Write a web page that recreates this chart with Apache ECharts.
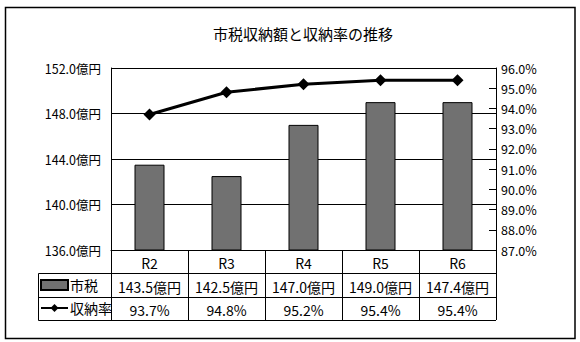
<!DOCTYPE html>
<html>
<head>
<meta charset="utf-8">
<script src="https://cdn.jsdelivr.net/npm/echarts@6/dist/echarts.min.js"></script>
<style>
html,body{margin:0;padding:0;background:#fff;}
#c{width:580px;height:342px;}
</style>
</head>
<body>
<div id="c"></div>
<script>
const titleText = '市税収納額と収納率の推移';
const categories = ['R2', 'R3', 'R4', 'R5', 'R6'];
const taxBarValues = [143.5, 142.5, 147.0, 149.0, 149.0];
const taxTableLabels = ['143.5億円', '142.5億円', '147.0億円', '149.0億円', '147.4億円'];
const rateValues = [93.7, 94.8, 95.2, 95.4, 95.4];
const rateTableLabels = ['93.7%', '94.8%', '95.2%', '95.4%', '95.4%'];
const seriesNames = ['市税', '収納率'];

const FONT = '"Noto Sans CJK JP", "Noto Sans", sans-serif';
const chart = echarts.init(document.getElementById('c'), null, {renderer: 'svg'});

const baseLabel = {fontFamily: FONT, fontSize: 14, color: '#000', interval: 0, hideOverlap: false};

chart.setOption({
  animation: false,
  backgroundColor: '#fff',
  textStyle: {fontFamily: FONT},
  graphic: [
    {type: 'rect', shape: {x: 5.5, y: 7.5, width: 569.5, height: 331}, style: {fill: 'none', stroke: '#000', lineWidth: 1.5}, z: 100},
    {type: 'text', x: 303, y: 33, style: {text: titleText, font: '15px ' + FONT, fill: '#000', textAlign: 'center', textVerticalAlign: 'middle'}},
    {type: 'line', shape: {x1: 38.5, y1: 273.5, x2: 496, y2: 273.5}, style: {stroke: '#000', lineWidth: 1}},
    {type: 'line', shape: {x1: 38.5, y1: 297.5, x2: 496, y2: 297.5}, style: {stroke: '#000', lineWidth: 1}},
    {type: 'line', shape: {x1: 38.5, y1: 320.5, x2: 496, y2: 320.5}, style: {stroke: '#000', lineWidth: 1}},
    {type: 'line', shape: {x1: 38.5, y1: 273.5, x2: 38.5, y2: 320.5}, style: {stroke: '#000', lineWidth: 1}}
  ],
  legend: {
    data: [{name: seriesNames[0], icon: 'rect'}, {name: seriesNames[1]}],
    orient: 'vertical',
    left: 40,
    top: 278,
    padding: 0,
    itemWidth: 27,
    itemHeight: 10,
    itemGap: 9,
    textStyle: {fontFamily: FONT, fontSize: 14, color: '#000', padding: [0, 0, 0, -3]}
  },
  grid: {left: 111, top: 68, width: 385, height: 182},
  xAxis: [
    {
      type: 'category', data: categories, gridIndex: 0, position: 'bottom',
      axisLine: {show: true, lineStyle: {color: '#000', width: 1}},
      axisTick: {show: true, length: 70, lineStyle: {color: '#000', width: 1}},
      axisLabel: Object.assign({margin: 6}, baseLabel)
    },
    {
      type: 'category', data: taxTableLabels, gridIndex: 0, position: 'bottom', offset: 23.5,
      axisLine: {show: false}, axisTick: {show: false},
      axisLabel: Object.assign({margin: 6}, baseLabel)
    },
    {
      type: 'category', data: rateTableLabels, gridIndex: 0, position: 'bottom', offset: 47,
      axisLine: {show: false}, axisTick: {show: false},
      axisLabel: Object.assign({margin: 6}, baseLabel)
    }
  ],
  yAxis: [
    {
      type: 'value', min: 136, max: 152, interval: 4, position: 'left',
      axisLine: {show: true, lineStyle: {color: '#000', width: 1}},
      axisTick: {show: false},
      splitLine: {show: true, lineStyle: {color: '#000', width: 1}},
      axisLabel: {fontFamily: FONT, fontSize: 12.5, color: '#000', margin: 10, formatter: v => v.toFixed(1) + '億円'}
    },
    {
      type: 'value', min: 87, max: 96, interval: 1, position: 'right',
      axisLine: {show: true, lineStyle: {color: '#000', width: 1}},
      axisTick: {show: true, inside: true, length: 7, lineStyle: {color: '#000', width: 1}},
      splitLine: {show: false},
      axisLabel: {fontFamily: FONT, fontSize: 12.5, color: '#000', margin: 5, formatter: v => v.toFixed(1) + '%'}
    }
  ],
  series: [
    {
      name: seriesNames[0], type: 'bar', xAxisIndex: 0, yAxisIndex: 0,
      data: taxBarValues, barWidth: 30,
      itemStyle: {color: '#717171', borderColor: '#000', borderWidth: 1}
    },
    {
      name: seriesNames[1], type: 'line', xAxisIndex: 0, yAxisIndex: 1,
      data: rateValues, symbol: 'diamond', symbolSize: 12,
      lineStyle: {color: '#000', width: 3},
      itemStyle: {color: '#000'}, z: 5
    }
  ]
});
</script>
</body>
</html>
